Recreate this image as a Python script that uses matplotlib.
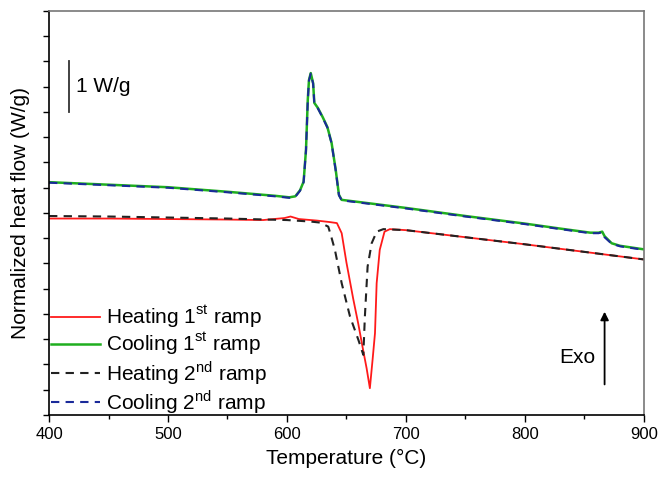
import numpy as np
import matplotlib
matplotlib.use('Agg')
import matplotlib.pyplot as plt
from matplotlib.ticker import MultipleLocator, NullFormatter

plt.rcParams['font.family'] = ['Liberation Sans', 'DejaVu Sans']
plt.rcParams['mathtext.fontset'] = 'custom'
plt.rcParams['mathtext.rm'] = 'Liberation Sans'

# Heating 1st ramp
heat1_T = [400, 450, 500, 550, 580, 598, 603, 610, 625, 636, 642, 646, 650, 655.7, 660, 664, 667, 669.7,
           672, 674, 675.4, 678, 682, 686.5, 700, 750, 800, 850, 900]
heat1_v = [3.89, 3.89, 3.88, 3.87, 3.86, 3.90, 3.93, 3.88, 3.85, 3.82, 3.80, 3.60, 3.02, 2.30, 1.80, 1.29, 0.92, 0.53,
           1.10, 1.62, 2.61, 3.27, 3.63, 3.68, 3.66, 3.52, 3.38, 3.23, 3.08]

# Cooling 1st ramp
cool1_T = [400, 450, 500, 550, 590, 602, 607, 611, 614, 616, 617.5, 618.5, 620, 622, 623, 626, 630, 634,
           637.5, 641, 643.7, 646, 700, 750, 800, 830, 855, 862, 865, 867, 873, 880, 900]
cool1_v = [4.61, 4.56, 4.51, 4.42, 4.34, 4.31, 4.33, 4.45, 4.62, 5.25, 6.24, 6.63, 6.77, 6.57, 6.18, 6.08, 5.90, 5.70,
           5.39, 4.85, 4.36, 4.26, 4.10, 3.94, 3.79, 3.69, 3.61, 3.61, 3.63, 3.54, 3.40, 3.35, 3.28]

# Heating 2nd ramp
heat2_T = [400, 450, 500, 550, 600, 620, 627.7, 634.7, 637, 640.3, 646, 653, 660, 664.2, 665.5, 667.8,
           671.2, 675.4, 681, 700, 750, 800, 850, 900]
heat2_v = [3.94, 3.93, 3.91, 3.89, 3.86, 3.83, 3.81, 3.73, 3.55, 3.27, 2.61, 1.95, 1.49, 1.19, 1.95, 2.94,
           3.40, 3.63, 3.68, 3.66, 3.52, 3.38, 3.23, 3.08]

# Cooling 2nd ramp
cool2_T = [400, 450, 500, 550, 590, 602, 607, 611, 614, 616, 617.5, 618.5, 620, 622, 623, 626, 630, 634,
           637.5, 641, 643.7, 646, 700, 750, 800, 830, 855, 862, 865, 867, 873, 880, 900]
cool2_v = [4.60, 4.55, 4.50, 4.41, 4.33, 4.30, 4.32, 4.44, 4.61, 5.24, 6.22, 6.62, 6.76, 6.56, 6.17, 6.07, 5.89, 5.69,
           5.38, 4.84, 4.35, 4.25, 4.09, 3.93, 3.78, 3.68, 3.60, 3.60, 3.62, 3.52, 3.39, 3.34, 3.27]

fig = plt.figure(figsize=(6.59, 4.84), dpi=100)
ax = fig.add_axes([0.0744, 0.1426, 0.9026, 0.8347])

ax.plot(heat1_T, heat1_v, color='#ff1a1a', lw=1.3, label='Heating 1$^{\\mathrm{st}}$ ramp')
ax.plot(cool1_T, cool1_v, color='#1fae1f', lw=1.8, label='Cooling 1$^{\\mathrm{st}}$ ramp')
ax.plot(heat2_T, heat2_v, color='#222222', lw=1.5, dashes=(4, 3), label='Heating 2$^{\\mathrm{nd}}$ ramp')
ax.plot(cool2_T, cool2_v, color='#1a2a9a', lw=1.5, dashes=(4, 3), label='Cooling 2$^{\\mathrm{nd}}$ ramp')

ax.set_xlim(400, 900)
ax.set_ylim(0, 8)
ax.xaxis.set_major_locator(MultipleLocator(100))
ax.xaxis.set_minor_locator(MultipleLocator(50))
ax.yaxis.set_major_locator(MultipleLocator(0.5))
ax.yaxis.set_major_formatter(NullFormatter())
ax.tick_params(axis='x', which='major', length=5, width=1, labelsize=12, pad=4)
ax.tick_params(axis='x', which='minor', length=3, width=1)
ax.tick_params(axis='y', which='major', length=4, width=1)
ax.tick_params(top=False, right=False)

for s in ['top', 'right']:
    ax.spines[s].set_color('#777777')
    ax.spines[s].set_linewidth(1.2)
for s in ['left', 'bottom']:
    ax.spines[s].set_linewidth(1.2)

ax.set_xlabel('Temperature (°C)', fontsize=15, labelpad=5)
ax.set_ylabel('Normalized heat flow (W/g)', fontsize=15, labelpad=6)

# 1 W/g scale bar
ax.plot([417, 417], [6.0, 7.0], color='#333333', lw=1.3)
ax.text(423, 6.5, '1 W/g', fontsize=15, va='center', ha='left')

# Exo arrow
ax.annotate('', xy=(867, 2.1), xytext=(867, 0.55),
            arrowprops=dict(arrowstyle='-|>', color='black', lw=1.3, mutation_scale=12))
ax.text(859, 1.13, 'Exo', fontsize=15, ha='right', va='center')

leg = ax.legend(loc='lower left', bbox_to_anchor=(-0.004, -0.012), frameon=False, fontsize=15,
                handlelength=2.35, handletextpad=0.3, labelspacing=0.06, borderpad=0.2, borderaxespad=0)

fig.savefig('out.png', dpi=100)
